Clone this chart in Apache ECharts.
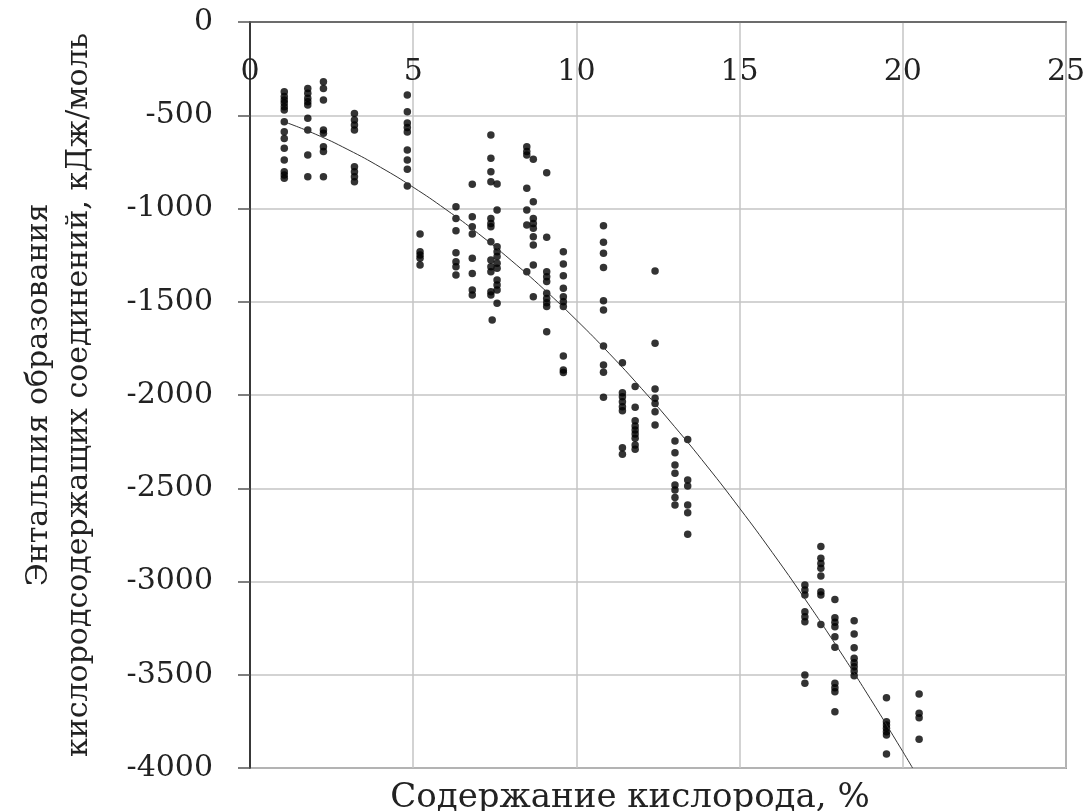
<!DOCTYPE html>
<html>
<head>
<meta charset="utf-8">
<script src="https://cdn.jsdelivr.net/npm/echarts@6/dist/echarts.min.js"></script>
<style>
  html, body { margin: 0; padding: 0; background: #fff; }
  #chart { width: 1091px; height: 811px; }
</style>
</head>
<body>
<div id="chart"></div>
<script>
// точки: [содержание кислорода, %, энтальпия, кДж/моль]
var points = [
  [1.05, -374], [1.05, -400], [1.05, -418], [1.05, -434], [1.05, -454], [1.05, -472],
  [1.05, -535], [1.05, -588], [1.05, -624], [1.05, -677], [1.05, -740], [1.05, -803],
  [1.05, -820], [1.05, -838],
  [1.77, -356], [1.77, -382], [1.77, -409], [1.77, -427], [1.77, -445], [1.77, -516],
  [1.77, -579], [1.77, -713], [1.77, -830],
  [2.25, -320], [2.25, -356], [2.25, -418], [2.25, -579], [2.25, -597], [2.25, -669],
  [2.25, -695], [2.25, -830],
  [3.2, -490], [3.2, -525], [3.2, -552], [3.2, -579], [3.2, -776], [3.2, -803],
  [3.2, -830], [3.2, -856],
  [4.82, -391], [4.82, -481], [4.82, -542], [4.82, -566], [4.82, -590], [4.82, -686],
  [4.82, -740], [4.82, -790], [4.82, -879],
  [5.21, -1137], [5.21, -1232], [5.21, -1249], [5.21, -1267], [5.21, -1303],
  [6.31, -990], [6.31, -1053], [6.31, -1119], [6.31, -1237], [6.31, -1285],
  [6.31, -1312], [6.31, -1357],
  [6.81, -870], [6.81, -1044], [6.81, -1098], [6.81, -1137], [6.81, -1267],
  [6.81, -1348], [6.81, -1437], [6.81, -1464],
  [7.38, -606], [7.38, -731], [7.38, -803], [7.38, -856], [7.38, -1053], [7.38, -1080],
  [7.38, -1098], [7.38, -1178], [7.38, -1276], [7.38, -1312], [7.38, -1339],
  [7.38, -1446], [7.38, -1464], [7.42, -1598],
  [7.57, -869], [7.57, -1008], [7.57, -1205], [7.57, -1232], [7.57, -1258],
  [7.57, -1294], [7.57, -1321], [7.57, -1383], [7.57, -1410], [7.57, -1437], [7.57, -1508],
  [8.48, -669], [8.48, -695], [8.48, -713], [8.48, -892], [8.48, -1008], [8.48, -1088],
  [8.48, -1339],
  [8.68, -736], [8.68, -964], [8.68, -1053], [8.68, -1080], [8.68, -1106], [8.68, -1151],
  [8.68, -1196], [8.68, -1303], [8.68, -1473],
  [9.09, -808], [9.09, -1154], [9.09, -1339], [9.09, -1366], [9.09, -1392], [9.09, -1455],
  [9.09, -1482], [9.09, -1505], [9.09, -1526], [9.09, -1661],
  [9.6, -1232], [9.6, -1298], [9.6, -1360], [9.6, -1428], [9.6, -1473], [9.6, -1500],
  [9.6, -1526], [9.6, -1791], [9.6, -1866], [9.6, -1880],
  [10.83, -1092], [10.83, -1181], [10.83, -1240], [10.83, -1317], [10.83, -1494],
  [10.83, -1544], [10.83, -1737], [10.83, -1839], [10.83, -1878], [10.83, -2012],
  [11.41, -1827], [11.41, -1988], [11.41, -2009], [11.41, -2036], [11.41, -2063],
  [11.41, -2084], [11.41, -2283], [11.41, -2318],
  [11.8, -1955], [11.8, -2066], [11.8, -2138], [11.8, -2166], [11.8, -2188],
  [11.8, -2209], [11.8, -2232], [11.8, -2268], [11.8, -2291],
  [12.41, -1335], [12.41, -1723], [12.41, -1968], [12.41, -2018], [12.41, -2045],
  [12.41, -2090], [12.41, -2161],
  [13.02, -2247], [13.02, -2309], [13.02, -2375], [13.02, -2420], [13.02, -2483],
  [13.02, -2509], [13.02, -2549], [13.02, -2590],
  [13.41, -2238], [13.41, -2456], [13.41, -2488], [13.41, -2590], [13.41, -2631],
  [13.41, -2747],
  [17.0, -3019], [17.0, -3046], [17.0, -3072], [17.0, -3162], [17.0, -3189],
  [17.0, -3216], [17.0, -3501], [17.0, -3546],
  [17.49, -2813], [17.49, -2876], [17.49, -2903], [17.49, -2929], [17.49, -2971],
  [17.49, -3055], [17.49, -3072], [17.49, -3230],
  [17.92, -3096], [17.92, -3194], [17.92, -3219], [17.92, -3242], [17.92, -3296],
  [17.92, -3353], [17.92, -3546], [17.92, -3570], [17.92, -3591], [17.92, -3698],
  [18.51, -3210], [18.51, -3282], [18.51, -3355], [18.51, -3412], [18.51, -3435],
  [18.51, -3457], [18.51, -3480], [18.51, -3505],
  [19.5, -3623], [19.5, -3752], [19.5, -3770], [19.5, -3787], [19.5, -3805],
  [19.5, -3823], [19.5, -3925],
  [20.5, -3603], [20.5, -3707], [20.5, -3730], [20.5, -3846]
];

// линия тренда
var trendX = [1.05, 2, 3, 4, 5, 6, 7, 8, 9, 10, 11, 12, 13, 14, 15, 16, 17, 18, 19, 20, 20.3];
var trendY = [-535, -601, -684, -779, -886, -1005, -1135, -1278, -1432, -1598, -1776,
  -1966, -2168, -2381, -2607, -2844, -3093, -3354, -3627, -3912, -4000];

var xTicks = [0, 5, 10, 15, 20, 25];
var yTicks = [0, -500, -1000, -1500, -2000, -2500, -3000, -3500, -4000];

var xTitle = 'Содержание кислорода, %';
var yTitle = 'Энтальпия образования\nкислородсодержащих соединений, кДж/моль';

var myChart = echarts.init(document.getElementById('chart'));
var font = '"DejaVu Serif", "Liberation Serif", serif';

var option = {
  backgroundColor: '#fff',
  animation: false,
  title: {
    text: xTitle,
    left: 625,
    top: 776,
    textAlign: 'center',
    textStyle: { fontFamily: font, fontSize: 34, fontWeight: 'normal', color: '#222' }
  },
  grid: {
    left: 250,
    top: 22,
    right: 25,
    bottom: 43,
    show: true,
    borderColor: '#555',
    borderWidth: 1.5
  },
  xAxis: {
    type: 'value',
    position: 'top',
    min: xTicks[0],
    max: xTicks[xTicks.length - 1],
    interval: 5,
    axisLine: { show: true, lineStyle: { color: '#555', width: 1.5 } },
    axisTick: { show: false },
    axisLabel: {
      inside: true,
      margin: 35,
      fontFamily: font,
      fontSize: 30,
      color: '#222'
    },
    splitLine: { lineStyle: { color: '#c4c4c4', width: 1.5 } }
  },
  yAxis: {
    type: 'value',
    min: yTicks[yTicks.length - 1],
    max: yTicks[0],
    interval: 500,
    name: yTitle,
    nameLocation: 'middle',
    nameRotate: 90,
    nameGap: 151,
    nameTextStyle: { fontFamily: font, fontSize: 30, color: '#222', lineHeight: 40 },
    axisLine: { show: true, onZero: false, lineStyle: { color: '#111', width: 1.5 } },
    axisTick: { show: true, length: 12, lineStyle: { color: '#555', width: 1.5 } },
    axisLabel: {
      margin: 37,
      fontFamily: font,
      fontSize: 30,
      color: '#222',
      formatter: function (v) { return String(v); }
    },
    splitLine: { lineStyle: { color: '#c4c4c4', width: 1.5 } }
  },
  series: [
    {
      type: 'scatter',
      data: points,
      symbol: 'circle',
      symbolSize: 7.5,
      itemStyle: { color: '#000' },
      z: 3
    },
    {
      type: 'line',
      data: trendX.map(function (x, i) { return [x, trendY[i]]; }),
      smooth: true,
      showSymbol: false,
      lineStyle: { color: '#333', width: 1 },
      z: 4
    }
  ]
};

myChart.setOption(option);

window.addEventListener('resize', function () {
  myChart.resize();
});
</script>
</body>
</html>
